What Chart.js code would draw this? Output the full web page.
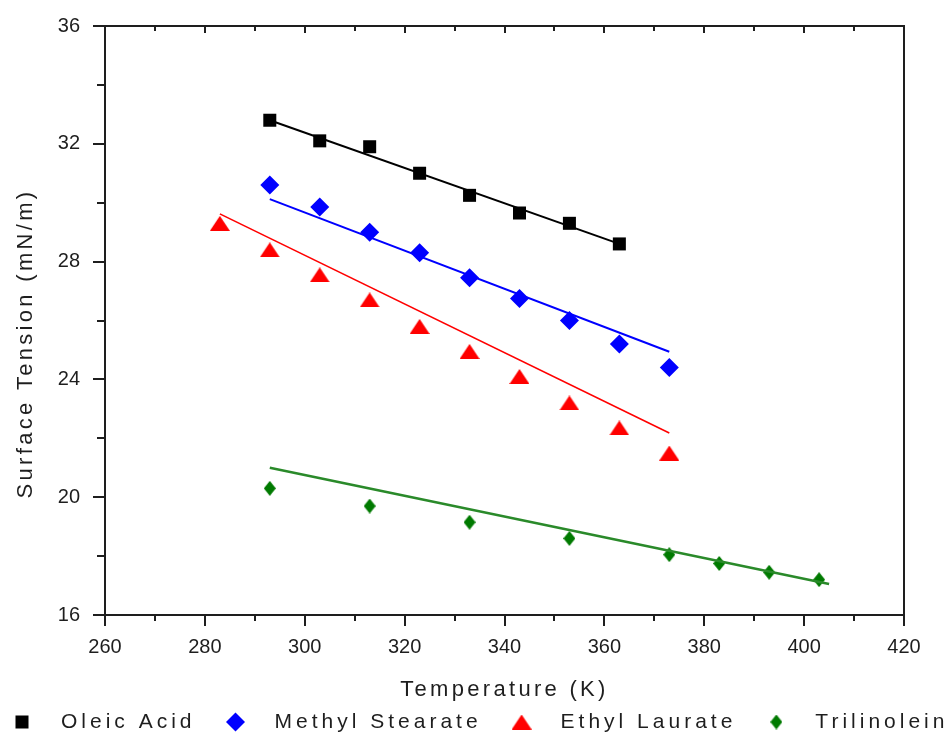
<!DOCTYPE html>
<html>
<head>
<meta charset="utf-8">
<script src="https://cdn.jsdelivr.net/npm/chart.js@4/dist/chart.umd.min.js"></script>
<style>
  html, body { margin: 0; padding: 0; background: #fff; }
  #wrap { width: 945px; height: 736px; position: relative; }
</style>
</head>
<body>
<div id="wrap"><canvas id="tensionChart"></canvas></div>
<script>
// surface tension vs temperature
const oleicTemps = [293, 303, 313, 323, 333, 343, 353, 363];
const oleicTension = [32.8, 32.1, 31.9, 31.0, 30.25, 29.65, 29.3, 28.6];

const methylTemps = [293, 303, 313, 323, 333, 343, 353, 363, 373];
const methylTension = [30.6, 29.85, 29.0, 28.3, 27.45, 26.75, 26.0, 25.2, 24.4];

const ethylTemps = [283, 293, 303, 313, 323, 333, 343, 353, 363, 373];
const ethylTension = [29.3, 28.4, 27.55, 26.7, 25.8, 24.95, 24.1, 23.2, 22.35, 21.5];

const trilinTemps = [293, 313, 333, 353, 373, 383, 393, 403];
const trilinTension = [20.3, 19.7, 19.15, 18.6, 18.05, 17.75, 17.45, 17.2];

// linear fit end points
const oleicFitTemps = [293, 363];
const oleicFit = [32.8, 28.6];
const methylFitTemps = [293, 373];
const methylFit = [30.12, 24.94];
const ethylFitTemps = [283, 373];
const ethylFit = [29.62, 22.18];
const trilinFitTemps = [293, 405];
const trilinFit = [21.0, 17.05];

const xTickLabels = [260, 280, 300, 320, 340, 360, 380, 400, 420];
const yTickLabels = [16, 20, 24, 28, 32, 36];

const seriesNames = ["Oleic Acid", "Methyl Stearate", "Ethyl Laurate", "Trilinolein"];

const COLORS = {
  oleic: "#000000",
  methyl: "#0000ff",
  ethyl: "#ff0000",
  trilin: "#007a00",
  trilinLine: "#2a8a2a",
  axis: "#1e1e1e",
  text: "#1e1e1e",
};

const FONT = "'Liberation Sans', Arial, sans-serif";

const toPoints = (xs, ys) => xs.map((x, i) => ({ x, y: ys[i] }));

// squat triangle / tall diamond like the Origin symbols
function symbolCanvas(kind, w, h, color) {
  const c = document.createElement("canvas");
  c.width = w;
  c.height = h;
  const g = c.getContext("2d");
  g.fillStyle = color;
  g.beginPath();
  if (kind === "triangle") {
    g.moveTo(w / 2, 0);
    g.lineTo(w, h);
    g.lineTo(0, h);
  } else {
    g.moveTo(w / 2, 0);
    g.lineTo(w, h / 2);
    g.lineTo(w / 2, h);
    g.lineTo(0, h / 2);
  }
  g.closePath();
  g.fill();
  return c;
}

const markers = [
  { style: "rect", color: COLORS.oleic, radius: 9.2 },
  { style: "rectRot", color: COLORS.methyl, radius: 9.5 },
  { style: symbolCanvas("triangle", 20, 15, COLORS.ethyl), color: COLORS.ethyl, radius: 10 },
  { style: symbolCanvas("diamond", 12, 15, COLORS.trilin), color: COLORS.trilin, radius: 7 },
];

function fitSet(xs, ys, color, width) {
  return {
    type: "line",
    data: toPoints(xs, ys),
    borderColor: color,
    borderWidth: width,
    pointRadius: 0,
    fill: false,
  };
}

function pointSet(i, xs, ys) {
  const m = markers[i];
  return {
    type: "scatter",
    label: seriesNames[i],
    data: toPoints(xs, ys),
    pointStyle: m.style,
    pointRadius: m.radius,
    pointHoverRadius: m.radius,
    backgroundColor: m.color,
    borderColor: m.color,
    borderWidth: 0,
  };
}

// frame, tick marks, axis titles and legend drawn Origin-style
const frameAndLegend = {
  id: "frameAndLegend",
  afterDraw(chart) {
    const { ctx, chartArea: a, scales } = chart;
    const xs = scales.x, ys = scales.y;
    ctx.save();
    ctx.strokeStyle = COLORS.axis;
    ctx.lineWidth = 2;
    ctx.strokeRect(a.left, a.top, a.right - a.left, a.bottom - a.top);

    ctx.beginPath();
    for (let v = xs.min; v <= xs.max; v += 10) {
      const px = Math.round(xs.getPixelForValue(v));
      const major = v % 20 === 0;
      ctx.moveTo(px, a.bottom);
      ctx.lineTo(px, a.bottom + (major ? 11 : 6));
      ctx.moveTo(px, a.top);
      ctx.lineTo(px, a.top + (major ? 7 : 5));
    }
    for (let v = ys.min; v <= ys.max; v += 2) {
      const py = Math.round(ys.getPixelForValue(v));
      const major = v % 4 === 0;
      ctx.moveTo(a.left, py);
      ctx.lineTo(a.left - (major ? 12 : 8), py);
    }
    ctx.stroke();

    // axis titles
    ctx.fillStyle = COLORS.text;
    ctx.font = "22px " + FONT;
    ctx.letterSpacing = "3.3px";
    ctx.textAlign = "center";
    ctx.textBaseline = "middle";
    ctx.fillText("Temperature (K)", (a.left + a.right) / 2, 690);
    ctx.save();
    ctx.translate(26, (a.top + a.bottom) / 2 + 23);
    ctx.rotate(-Math.PI / 2);
    ctx.fillText("Surface Tension (mN/m)", 0, 0);
    ctx.restore();

    // legend row
    ctx.font = "21px " + FONT;
    ctx.letterSpacing = "4px";
    ctx.textAlign = "left";
    let x = 22;
    const y = 722;
    seriesNames.forEach((name, i) => {
      const m = markers[i];
      ctx.fillStyle = m.color;
      Chart.helpers.drawPoint(ctx, { pointStyle: m.style, radius: m.radius, rotation: 0, borderWidth: 0 }, x, y);
      ctx.fillStyle = COLORS.text;
      const tx = x + 39;
      ctx.fillText(name, tx, y);
      x = tx + ctx.measureText(name).width + 40;
    });
    ctx.restore();
  },
};

new Chart(document.getElementById("tensionChart"), {
  type: "scatter",
  data: {
    datasets: [
      fitSet(oleicFitTemps, oleicFit, COLORS.oleic, 2),
      fitSet(methylFitTemps, methylFit, COLORS.methyl, 2),
      fitSet(ethylFitTemps, ethylFit, COLORS.ethyl, 1.6),
      fitSet(trilinFitTemps, trilinFit, COLORS.trilinLine, 2.5),
      pointSet(0, oleicTemps, oleicTension),
      pointSet(1, methylTemps, methylTension),
      pointSet(2, ethylTemps, ethylTension),
      pointSet(3, trilinTemps, trilinTension),
    ],
  },
  options: {
    responsive: true,
    maintainAspectRatio: false,
    animation: false,
    layout: { padding: { left: 0, top: 26, right: 41, bottom: 0 } },
    plugins: { legend: { display: false }, tooltip: { enabled: false } },
    scales: {
      x: {
        type: "linear",
        min: xTickLabels[0],
        max: xTickLabels[xTickLabels.length - 1],
        grid: { display: false },
        border: { display: false },
        afterBuildTicks: (s) => { s.ticks = xTickLabels.map((v) => ({ value: v })); },
        afterFit: (s) => { s.height = 121; s.paddingLeft = 0; s.paddingRight = 0; },
        ticks: { padding: 12, color: COLORS.text, font: { family: FONT, size: 20 }, maxRotation: 0 },
      },
      y: {
        type: "linear",
        min: yTickLabels[0],
        max: yTickLabels[yTickLabels.length - 1],
        grid: { display: false },
        border: { display: false },
        afterBuildTicks: (s) => { s.ticks = yTickLabels.map((v) => ({ value: v })); },
        afterFit: (s) => { s.width = 105; s.paddingTop = 0; s.paddingBottom = 0; },
        ticks: { padding: 17, color: COLORS.text, font: { family: FONT, size: 20 } },
      },
    },
  },
  plugins: [frameAndLegend],
});
</script>
</body>
</html>
